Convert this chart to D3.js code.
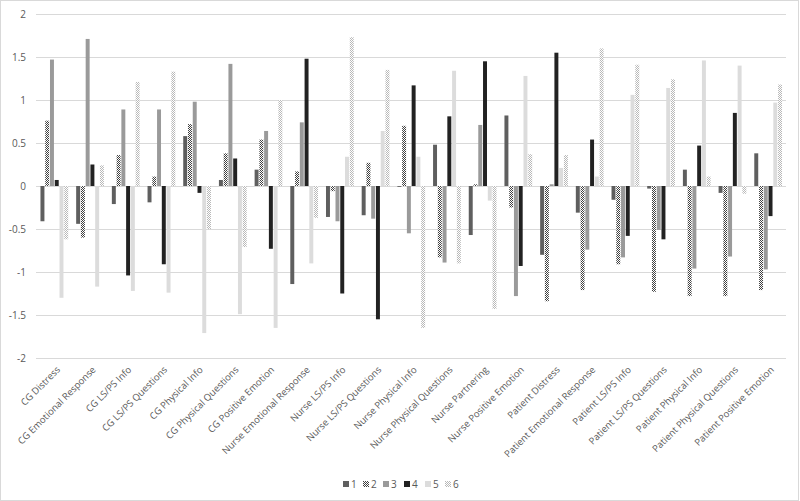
<!DOCTYPE html>
<html><head><meta charset="utf-8">
<script src="https://cdn.jsdelivr.net/npm/d3@7"></script>
<style>body{margin:0;background:#fff}svg{display:block}</style>
</head><body>
<script>
const categories = ["CG Distress","CG Emotional Response","CG LS/PS Info","CG LS/PS Questions","CG Physical Info","CG Physical Questions","CG Positive Emotion","Nurse Emotional Response","Nurse LS/PS Info","Nurse LS/PS Questions","Nurse Physical Info","Nurse Physical Questions","Nurse Partnering","Nurse Positive Emotion","Patient Distress","Patient Emotional Response","Patient LS/PS Info","Patient LS/PS Questions","Patient Physical Info","Patient Physical Questions","Patient Positive Emotion"];
const seriesNames = ["1","2","3","4","5","6"];
const s1 = [-0.41,-0.44,-0.21,-0.19,0.58,0.07,0.19,-1.14,-0.36,-0.34,-0.01,0.48,-0.57,0.82,-0.80,-0.31,-0.16,-0.03,0.19,-0.08,0.38];
const s2 = [0.76,-0.60,0.36,0.11,0.72,0.38,0.54,0.17,-0.06,0.27,0.70,-0.83,0.02,-0.25,-1.34,-1.21,-0.91,-1.23,-1.28,-1.28,-1.21];
const s3 = [1.47,1.71,0.89,0.89,0.98,1.42,0.64,0.74,-0.41,-0.38,-0.55,-0.89,0.71,-1.28,0.02,-0.74,-0.83,-0.51,-0.96,-0.82,-0.97];
const s4 = [0.07,0.25,-1.04,-0.91,-0.08,0.32,-0.73,1.48,-1.25,-1.55,1.17,0.81,1.45,-0.93,1.55,0.54,-0.58,-0.62,0.47,0.85,-0.35];
const s5 = [-1.30,-1.17,-1.22,-1.24,-1.71,-1.49,-1.65,-0.90,0.34,0.64,0.34,1.34,-0.17,1.28,0.21,0.11,1.06,1.14,1.46,1.40,0.97];
const s6 = [-0.62,0.24,1.21,1.33,-0.50,-0.71,1.00,-0.37,1.73,1.35,-1.65,-0.90,-1.43,0.37,0.36,1.60,1.41,1.24,0.11,-0.09,1.18];
const yTicks = [2,1.5,1,0.5,0,-0.5,-1,-1.5,-2];
</script>
<script>
const W=800,H=501;
const svg=d3.select("body").append("svg").attr("width",W).attr("height",H);
const defs=svg.append("defs");
function checker(id,c){
  const p=defs.append("pattern").attr("id",id).attr("width",2).attr("height",2).attr("patternUnits","userSpaceOnUse");
  p.append("rect").attr("width",2).attr("height",2).attr("fill","#fff");
  p.append("rect").attr("width",1).attr("height",1).attr("fill",c);
  p.append("rect").attr("x",1).attr("y",1).attr("width",1).attr("height",1).attr("fill",c);
}
checker("p2","#404040");
checker("p6","#b8b8b8");
const fills=["#5f5f5f","url(#p2)","#9a9a9a","#222222","#dcdcdc","url(#p6)"];
const allSeries=[s1,s2,s3,s4,s5,s6];

svg.append("rect").attr("x",0.5).attr("y",0.5).attr("width",W-2).attr("height",H-1).attr("fill","#fff").attr("stroke","#d9d9d9");

const x0=d3.scaleBand().domain(categories).range([36.5,786]);
const gFrac=0.8;
const x1=d3.scaleBand().domain(seriesNames).range([0,x0.bandwidth()*gFrac]);
const groupOff=x0.bandwidth()*(1-gFrac)/2;
const y=d3.scaleLinear().domain([-2,2]).range([358,14]);

// gridlines
svg.append("g").selectAll("line").data(yTicks).join("line")
  .attr("x1",36).attr("x2",786).attr("y1",d=>Math.round(y(d))+0.5).attr("y2",d=>Math.round(y(d))+0.5)
  .attr("stroke","#d9d9d9").attr("stroke-width",1);

// y axis labels
const yAxis=d3.axisLeft(y).tickValues(yTicks).tickSize(0).tickPadding(0).tickFormat(d=>d);
const ya=svg.append("g").attr("transform","translate(26,0)").call(yAxis);
ya.select(".domain").remove();
ya.selectAll("text").attr("font-family","Open Sans, sans-serif").attr("font-size","10px").attr("fill","#595959");

// bars
const data=[];
categories.forEach((c,i)=>allSeries.forEach((s,j)=>data.push({c,k:seriesNames[j],v:s[i],j})));
svg.append("g").selectAll("rect").data(data).join("rect")
  .attr("x",d=>x0(d.c)+groupOff+x1(d.k)+0.4)
  .attr("width",x1.bandwidth()-0.8)
  .attr("y",d=>Math.min(y(d.v),y(0)))
  .attr("height",d=>Math.abs(y(d.v)-y(0)))
  .attr("fill",d=>fills[d.j]);

// x labels
const xl=svg.append("g");
categories.forEach(c=>{
  const cx=x0(c)+x0.bandwidth()/2;
  xl.append("text").attr("transform",`translate(${cx+4},${368}) rotate(-45)`)
    .attr("text-anchor","end").attr("dy","0.35em")
    .attr("font-family","Open Sans, sans-serif").attr("font-size","9.5px").attr("fill","#595959")
    .text(c);
});

// legend
const lx=[343,363,383,404,425,445];
const lg=svg.append("g");
seriesNames.forEach((n,i)=>{
  lg.append("rect").attr("x",lx[i]).attr("y",481).attr("width",6).attr("height",6).attr("fill",fills[i]);
  lg.append("text").attr("x",lx[i]+8).attr("y",484).attr("dy","0.35em")
    .attr("font-family","Open Sans, sans-serif").attr("font-size","10px").attr("fill","#595959").text(n);
});
</script>
</body></html>
